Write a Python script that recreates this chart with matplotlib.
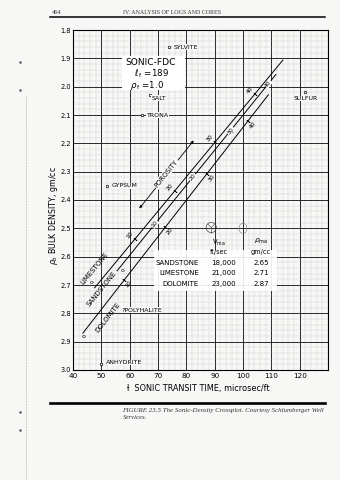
import numpy as np
import matplotlib
matplotlib.use('Agg')
import matplotlib.pyplot as plt
from matplotlib.patches import Rectangle, Ellipse

# ---------------- data ----------------
lithologies = ['SANDSTONE', 'LIMESTONE', 'DOLOMITE']
v_matrix = [18000, 21000, 23000]          # ft/sec
v_labels = ['18,000', '21,000', '23,000']
rho_matrix = [2.65, 2.71, 2.87]           # gm/cc
rho_labels = ['2.65', '2.71', '2.87']
dt_fluid = 189.0
rho_fluid = 1.0
phi_max = [0.42, 0.47, 0.45]
phi_ticks = [0, 10, 20, 30, 40]

minerals = ['SYLVITE', 'SALT', 'TRONA', 'SULFUR', 'GYPSUM', '?POLYHALITE', 'ANHYDRITE']
mineral_dt = [74, 67, 64.5, 122, 52, 57.5, 50]
mineral_rho = [1.86, 2.03, 2.10, 2.02, 2.35, 2.79, 2.98]

x_ticks = [40, 50, 60, 70, 80, 90, 100, 110, 120]
y_ticks = [1.8, 1.9, 2.0, 2.1, 2.2, 2.3, 2.4, 2.5, 2.6, 2.7, 2.8, 2.9, 3.0]
y_tick_labels = ['1.8', '1.9', '2.0', '2.1', '2.2', '2.3', '2.4', '2.5', '2.6', '2.7', '2.8', '2.9', '3.0']

# ---------------- figure ----------------
BG = '#f7f7f6'
W, H = 340, 480
fig = plt.figure(figsize=(3.4, 4.8), dpi=100, facecolor=BG)
ax = fig.add_axes([73 / W, 1 - 370 / H, 255 / W, 340 / H])
ax.set_facecolor(BG)
ax.set_xlim(40, 130)
ax.set_ylim(3.0, 1.8)

ax.set_xticks(x_ticks)
ax.set_xticklabels([str(t) for t in x_ticks], fontsize=5.2)
ax.set_yticks(y_ticks)
ax.set_yticklabels(y_tick_labels, fontsize=4.8)
ax.set_xticks(np.arange(40, 131, 2), minor=True)
ax.set_yticks(np.arange(1.8, 3.001, 0.02), minor=True)
ax.tick_params(which='both', length=0)
ax.tick_params(axis='x', pad=2)
ax.tick_params(axis='y', pad=1.5)
ax.grid(which='minor', color='#b0b0b0', lw=0.3, ls=(0, (2, 1.5)))
ax.grid(which='major', color='#1a1a1a', lw=0.65)
ax.set_axisbelow(True)
for s in ax.spines.values():
    s.set_linewidth(0.8)
    s.set_color('black')

fig.canvas.draw()
def line_angle(p0, p1):
    a = ax.transData.transform(p0)
    b = ax.transData.transform(p1)
    return np.degrees(np.arctan2(b[1] - a[1], b[0] - a[0]))

# white boxes (title block and table)
ax.add_patch(Rectangle((57.4, 1.892), 22.0, 0.12, facecolor='white', edgecolor='none', zorder=1.5))
ax.add_patch(Rectangle((68.5, 2.575), 43.5, 0.145, facecolor='white', edgecolor='none', zorder=1.5, alpha=0.9))

# ---------------- lithology lines ----------------
label_offsets = {'LIMESTONE': 4.5, 'SANDSTONE': 0.0, 'DOLOMITE': -4.5}
zero_offsets = {'LIMESTONE': (-2.5, 3.5), 'SANDSTONE': (4.0, 0.0), 'DOLOMITE': (0.8, -2.5)}
name_pos = {'LIMESTONE': (47.5, 2.64), 'SANDSTONE': (50.0, 2.715), 'DOLOMITE': (52.2, 2.815)}

for name, v, rma, pmax in zip(lithologies, v_matrix, rho_matrix, phi_max):
    dtma = 1e6 / v
    phis = np.array([0.0, pmax])
    dts = phis * dt_fluid + (1 - phis) * dtma
    rhos = phis * rho_fluid + (1 - phis) * rma
    ax.plot(dts, rhos, color='black', lw=0.7, zorder=3)
    ang = line_angle((dts[0], rhos[0]), (dts[1], rhos[1]))
    nx, ny = -np.sin(np.radians(ang)), np.cos(np.radians(ang))
    for p in phi_ticks:
        f = p / 100.0
        d = f * dt_fluid + (1 - f) * dtma
        r = f * rho_fluid + (1 - f) * rma
        if p == 0:
            off = zero_offsets[name]
            ax.annotate('o', (d, r), xytext=off, textcoords='offset points',
                        fontsize=4.4, ha='center', va='center', zorder=4)
            continue
        ax.plot([d], [r], marker=(2, 2, ang), ms=3, mew=0.5, color='black', zorder=3)
        k = label_offsets[name]
        bb = dict(boxstyle='square,pad=0.05', fc='white', ec='none') if k == 0 else None
        ax.annotate(str(p), (d, r), xytext=(k * nx, k * ny), textcoords='offset points',
                    fontsize=4.4, ha='center', va='center', rotation=ang,
                    rotation_mode='anchor', bbox=bb, zorder=4)
    nxp, nyp = name_pos[name]
    ax.text(nxp, nyp, name, fontsize=5.0, ha='center', va='center', rotation=ang,
            rotation_mode='anchor', zorder=4)

# porosity arrow
pa = (63.4, 2.43)
pb = (82.6, 2.19)
ax.annotate('', xy=pb, xytext=pa,
            arrowprops=dict(arrowstyle='<|-|>', lw=0.6, color='black',
                            mutation_scale=4, shrinkA=0, shrinkB=0), zorder=3)
ax.text(72.9, 2.307, 'POROSITY', fontsize=4.8, ha='center', va='center',
        rotation=line_angle(pa, pb), rotation_mode='anchor',
        bbox=dict(boxstyle='square,pad=0.15', fc=BG, ec='none'), zorder=4)

# ---------------- minerals ----------------
m_off = {'SYLVITE': ((3, 0), 'left', 'center'),
         'SALT': ((1.5, -2.2), 'left', 'center'),
         'TRONA': ((3, 0), 'left', 'center'),
         'SULFUR': ((0, -4.5), 'center', 'center'),
         'GYPSUM': ((3, 0), 'left', 'center'),
         '?POLYHALITE': ((-1, 0.3), 'left', 'center'),
         'ANHYDRITE': ((3, 1.2), 'left', 'center')}
for name, d, r in zip(minerals, mineral_dt, mineral_rho):
    ax.plot([d], [r], marker='o', ms=1.8, mfc='white', mec='black', mew=0.5, zorder=4)
    off, ha, va = m_off[name]
    ax.annotate(name, (d, r), xytext=off, textcoords='offset points', fontsize=4.5,
                ha=ha, va=va, zorder=4,
                bbox=dict(boxstyle='square,pad=0.05', fc=BG, ec='none'))

# title block
ax.text(67.4, 1.913, 'SONIC-FDC', fontsize=6.6, ha='center', va='center', zorder=4)
ax.text(67.5, 1.953, r'$\ell_{\,\mathrm{f}}$ =189', fontsize=6.2, ha='center', va='center', zorder=4)
ax.text(66.2, 1.997, r'$\rho_{\,\mathrm{f}}$ =1.0', fontsize=6.2, ha='center', va='center', zorder=4)

# table
ax.text(91.5, 2.551, r'V$_{\mathrm{ma}}$', fontsize=4.9, ha='center', va='center', zorder=4)
ax.text(91.5, 2.584, 'ft/sec', fontsize=4.7, ha='center', va='center', zorder=4)
ax.text(106.3, 2.547, r'$\rho_{\mathrm{ma}}$', fontsize=5.3, ha='center', va='center', zorder=4)
ax.text(106.3, 2.584, 'gm/cc', fontsize=4.7, ha='center', va='center', zorder=4)
row_rho = [2.623, 2.659, 2.698]
for name, vl, rl, yr in zip(lithologies, v_labels, rho_labels, row_rho):
    ax.text(84.5, yr, name, fontsize=5, ha='right', va='center', zorder=4)
    ax.text(93.3, yr, vl, fontsize=5, ha='center', va='center', zorder=4)
    ax.text(103.7, yr, rl, fontsize=5, ha='left', va='center', zorder=4)

# decorative stamps on the scan
ax.add_patch(Ellipse((88.8, 2.497), 3.6, 0.036, fill=False, ec='#444', lw=0.5, zorder=3))
ax.plot([88.8, 88.8], [2.497, 2.515], color='#444', lw=0.4, zorder=3)
ax.plot([87.6, 88.8, 90.0], [2.485, 2.497, 2.485], color='#444', lw=0.4, zorder=3)
ax.add_patch(Ellipse((100.0, 2.500), 2.8, 0.036, fill=False, ec='#777', lw=0.4, zorder=3))

# axis labels
fig.text(198 / W, 1 - 388 / H, 'ƚ  SONIC TRANSIT TIME, microsec/ft', fontsize=5.9,
         ha='center', va='center')
fig.text(54 / W, 1 - 216 / H, r'$\rho_b$ BULK DENSITY, gm/cc', fontsize=5.7,
         ha='center', va='center', rotation=90)

# page header / footer
serif = ['Liberation Serif', 'DejaVu Serif']
fig.text(52 / W, 1 - 12 / H, '464', fontsize=4.6, family=serif, ha='left', va='center', color='#333')
fig.text(123 / W, 1 - 12 / H, 'IV. ANALYSIS OF LOGS AND CORES', fontsize=4.3, family=serif,
         ha='left', va='center', color='#333')
fig.add_artist(plt.Line2D([50 / W, 325 / W], [1 - 16.8 / H, 1 - 16.8 / H], color='black', lw=1.1))
fig.add_artist(plt.Line2D([50 / W, 325 / W], [1 - 403.3 / H, 1 - 403.3 / H], color='black', lw=1.9))
fig.text(122.5 / W, 1 - 410.7 / H,
         'FIGURE 23.5 The Sonic-Density Crossplot. Courtesy Schlumberger Well',
         fontsize=4.95, family=serif, style='italic', ha='left', va='center', color='#333')
fig.text(122.5 / W, 1 - 417.5 / H, 'Services.', fontsize=4.95, family=serif, style='italic',
         ha='left', va='center', color='#333')

# scan artefacts at the left edge
fig.add_artist(plt.Line2D([25.5 / W, 25.5 / W], [1 - 95 / H, 0.0], color='#b8b8b8', lw=0.5,
                          ls=(0, (3, 1))))
for yy in [62, 90, 412, 430]:
    fig.add_artist(plt.Line2D([20 / W], [1 - yy / H], marker='o', ms=0.8, color='#555', lw=0))

fig.savefig('out.png', dpi=100, facecolor=BG)
